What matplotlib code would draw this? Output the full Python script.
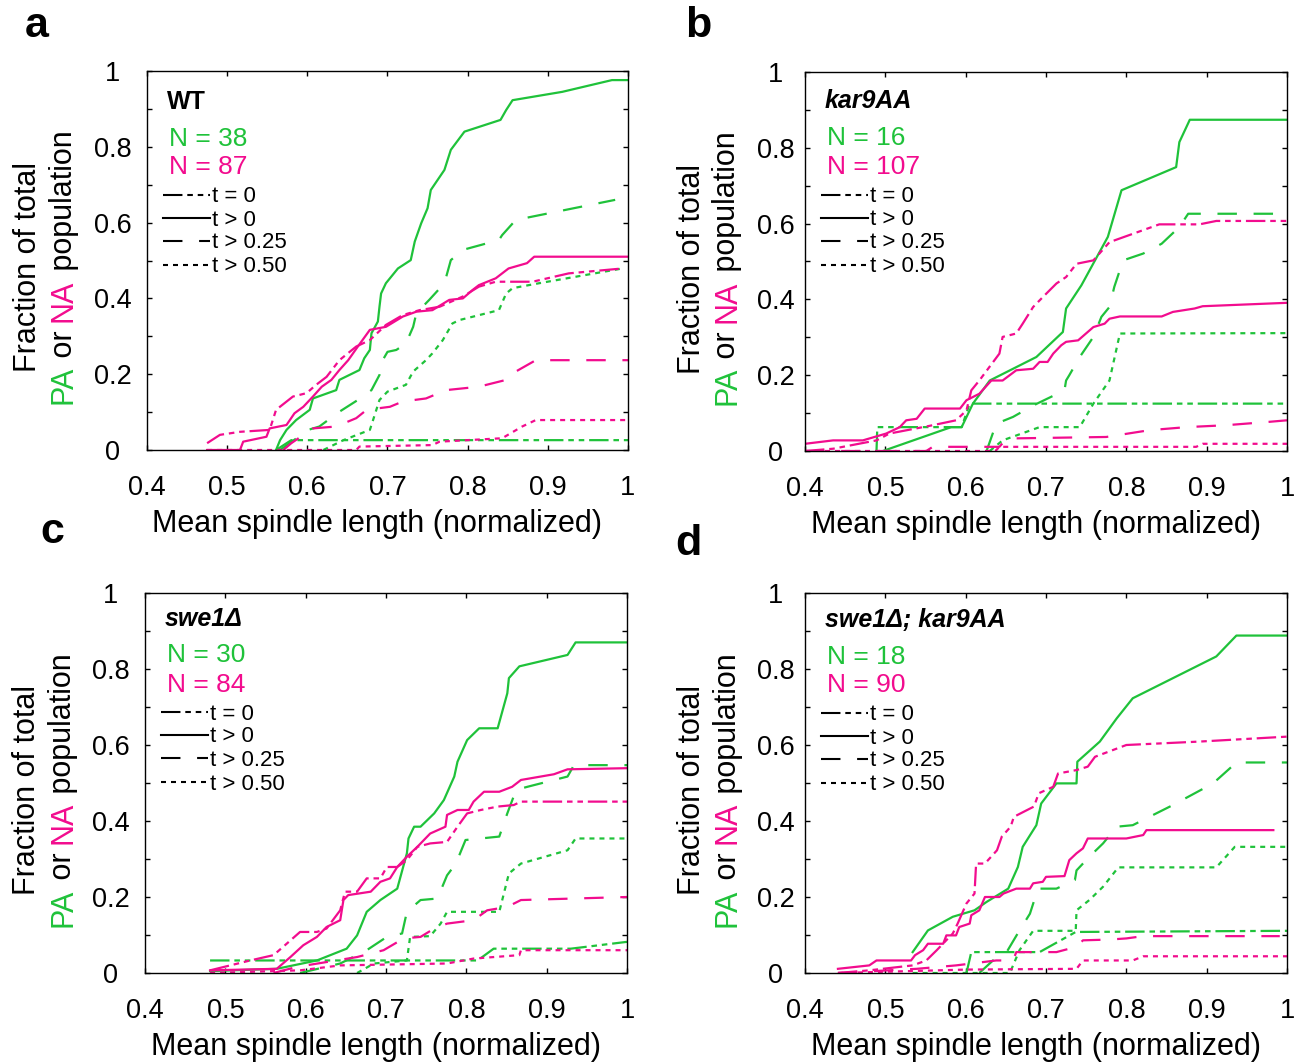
import numpy as np
import matplotlib
matplotlib.use("Agg")
import matplotlib.pyplot as plt
from matplotlib.lines import Line2D

plt.rcParams['font.family'] = ['Liberation Sans', 'DejaVu Sans']
plt.rcParams['lines.scale_dashes'] = False

#%% data: (mean spindle length, cumulative fraction)
# PA = green, NA = magenta ; t0 = "t = 0", t00 = "t > 0", t25 = "t > 0.25", t50 = "t > 0.50"
A_PA_T0 = [(0.561, 0), (0.580, 0.026), (1.0, 0.026)]
A_PA_T00 = [(0.561, 0), (0.566, 0.026), (0.574, 0.053), (0.586, 0.079), (0.603, 0.106), (0.607, 0.136),
            (0.636, 0.158), (0.640, 0.185), (0.665, 0.211), (0.671, 0.242), (0.678, 0.264), (0.680, 0.308),
            (0.688, 0.339), (0.690, 0.378), (0.692, 0.413), (0.698, 0.440), (0.713, 0.479), (0.729, 0.501),
            (0.734, 0.550), (0.742, 0.598), (0.750, 0.638), (0.754, 0.686), (0.771, 0.739), (0.779, 0.792),
            (0.796, 0.840), (0.841, 0.871), (0.848, 0.897), (0.856, 0.923), (0.918, 0.945), (0.980, 0.976),
            (1.0, 0.976)]
A_PA_T25 = [(0.566, 0), (0.601, 0.053), (0.615, 0.062), (0.640, 0.101), (0.663, 0.132), (0.680, 0.158),
            (0.690, 0.198), (0.694, 0.237), (0.700, 0.259), (0.711, 0.264), (0.723, 0.281), (0.732, 0.325),
            (0.736, 0.361), (0.752, 0.396), (0.771, 0.440), (0.779, 0.501), (0.794, 0.528), (0.839, 0.554),
            (0.843, 0.567), (0.860, 0.607), (0.984, 0.660)]
A_PA_T50 = [(0.620, 0), (0.645, 0.026), (0.678, 0.053), (0.682, 0.079), (0.690, 0.132), (0.700, 0.154),
            (0.723, 0.172), (0.732, 0.207), (0.748, 0.237), (0.756, 0.255), (0.769, 0.290), (0.781, 0.334),
            (0.790, 0.343), (0.839, 0.369), (0.848, 0.413), (0.856, 0.427), (0.889, 0.440), (0.993, 0.479)]
A_NA_T0 = [(0.475, 0.018), (0.491, 0.040), (0.516, 0.048), (0.553, 0.053), (0.561, 0.106), (0.582, 0.141),
           (0.599, 0.150), (0.611, 0.172), (0.624, 0.193), (0.640, 0.237), (0.661, 0.273), (0.678, 0.290),
           (0.698, 0.330), (0.719, 0.356), (0.740, 0.369), (0.765, 0.378), (0.794, 0.405), (0.814, 0.431),
           (0.835, 0.444), (0.881, 0.444), (0.926, 0.466), (0.993, 0.479)]
A_NA_T00 = [(0.475, 0), (0.516, 0), (0.520, 0.022), (0.549, 0.035), (0.553, 0.057), (0.574, 0.066),
            (0.584, 0.097), (0.595, 0.114), (0.607, 0.141), (0.618, 0.167), (0.630, 0.185), (0.640, 0.211),
            (0.651, 0.237), (0.663, 0.273), (0.678, 0.317), (0.698, 0.325), (0.719, 0.352), (0.736, 0.365),
            (0.756, 0.369), (0.777, 0.396), (0.794, 0.400), (0.806, 0.422), (0.814, 0.435), (0.835, 0.453),
            (0.851, 0.479), (0.874, 0.493), (0.883, 0.510), (1.0, 0.510)]
A_NA_T25 = [(0.570, 0), (0.580, 0.018), (0.607, 0.057), (0.636, 0.062), (0.661, 0.084), (0.674, 0.106),
            (0.703, 0.114), (0.719, 0.128), (0.748, 0.136), (0.773, 0.158), (0.814, 0.167), (0.848, 0.185),
            (0.860, 0.207), (0.885, 0.237), (1.0, 0.237)]
A_NA_T50 = [(0.475, 0), (0.661, 0), (0.665, 0.009), (0.756, 0.013), (0.765, 0.022), (0.843, 0.031),
            (0.868, 0.062), (0.885, 0.079), (1.0, 0.079)]

B_PA_T0 = [(0.489, 0), (0.490, 0.063), (0.595, 0.063), (0.605, 0.125), (1.0, 0.125)]
B_PA_T00 = [(0.497, 0), (0.582, 0.063), (0.595, 0.063), (0.609, 0.125), (0.630, 0.186), (0.688, 0.248),
            (0.721, 0.314), (0.725, 0.376), (0.744, 0.437), (0.777, 0.565), (0.794, 0.688), (0.862, 0.749),
            (0.866, 0.815), (0.879, 0.874), (1.0, 0.874)]
B_PA_T25 = [(0.626, 0), (0.638, 0.072), (0.659, 0.090), (0.684, 0.120), (0.723, 0.160), (0.725, 0.186),
            (0.729, 0.200), (0.742, 0.248), (0.759, 0.301), (0.769, 0.354), (0.779, 0.380), (0.785, 0.433),
            (0.796, 0.503), (0.821, 0.521), (0.844, 0.547), (0.866, 0.591), (0.877, 0.626), (1.0, 0.626)]
B_PA_T50 = [(0.630, 0), (0.646, 0.028), (0.692, 0.063), (0.742, 0.063), (0.759, 0.125), (0.779, 0.186),
            (0.792, 0.310), (1.0, 0.311)]
B_NA_T0 = [(0.400, 0), (0.435, 0.006), (0.489, 0.028), (0.505, 0.046), (0.559, 0.068), (0.588, 0.081),
           (0.601, 0.107), (0.607, 0.160), (0.617, 0.186), (0.642, 0.257), (0.646, 0.301), (0.663, 0.310),
           (0.671, 0.336), (0.684, 0.380), (0.696, 0.406), (0.713, 0.442), (0.725, 0.459), (0.738, 0.494),
           (0.759, 0.503), (0.779, 0.551), (0.841, 0.598), (0.891, 0.598), (0.912, 0.607), (1.0, 0.607)]
B_NA_T00 = [(0.400, 0.019), (0.435, 0.028), (0.472, 0.028), (0.501, 0.046), (0.518, 0.063), (0.526, 0.081),
            (0.539, 0.085), (0.549, 0.112), (0.593, 0.112), (0.601, 0.134), (0.617, 0.151), (0.632, 0.186),
            (0.646, 0.186), (0.663, 0.213), (0.684, 0.217), (0.692, 0.235), (0.702, 0.235), (0.709, 0.257),
            (0.719, 0.279), (0.725, 0.288), (0.740, 0.292), (0.759, 0.327), (0.773, 0.336), (0.779, 0.349),
            (0.792, 0.355), (0.844, 0.355), (0.858, 0.367), (0.885, 0.376), (0.895, 0.382), (1.0, 0.391)]
B_NA_T25 = [(0.400, 0), (0.551, 0), (0.559, 0.011), (0.642, 0.011), (0.651, 0.033), (0.775, 0.037),
            (0.829, 0.055), (0.875, 0.063), (0.924, 0.068), (0.978, 0.077), (1.0, 0.081)]
B_NA_T50 = [(0.400, 0), (0.637, 0), (0.642, 0.011), (0.887, 0.011), (0.895, 0.019), (1.0, 0.019)]

C_PA_T0 = [(0.481, 0.033), (0.814, 0.033), (0.834, 0.064), (0.930, 0.064), (1.0, 0.082)]
C_PA_T00 = [(0.481, 0.005), (0.564, 0.011), (0.614, 0.033), (0.651, 0.064), (0.664, 0.099), (0.676, 0.161),
            (0.693, 0.192), (0.714, 0.222), (0.726, 0.315), (0.728, 0.354), (0.735, 0.385), (0.743, 0.385),
            (0.760, 0.420), (0.772, 0.455), (0.785, 0.517), (0.789, 0.556), (0.801, 0.613), (0.816, 0.644),
            (0.839, 0.644), (0.851, 0.736), (0.853, 0.776), (0.866, 0.807), (0.926, 0.837), (0.936, 0.870),
            (1.0, 0.870)]
C_PA_T25 = [(0.593, 0), (0.643, 0.025), (0.676, 0.060), (0.701, 0.095), (0.720, 0.104), (0.726, 0.161),
            (0.743, 0.192), (0.764, 0.196), (0.776, 0.257), (0.787, 0.288), (0.799, 0.350), (0.841, 0.359),
            (0.851, 0.420), (0.862, 0.482), (0.876, 0.490), (0.926, 0.517), (0.934, 0.547), (1.0, 0.547)]
C_PA_T50 = [(0.664, 0), (0.685, 0.025), (0.726, 0.033), (0.730, 0.095), (0.755, 0.097), (0.768, 0.130),
            (0.776, 0.161), (0.841, 0.161), (0.853, 0.262), (0.868, 0.288), (0.926, 0.323), (0.936, 0.354),
            (1.0, 0.354)]
C_NA_T0 = [(0.481, 0.007), (0.531, 0.033), (0.560, 0.047), (0.572, 0.069), (0.593, 0.108), (0.614, 0.108),
           (0.626, 0.117), (0.643, 0.165), (0.649, 0.214), (0.664, 0.214), (0.676, 0.249), (0.693, 0.249),
           (0.701, 0.279), (0.714, 0.279), (0.726, 0.297), (0.739, 0.332), (0.755, 0.341), (0.776, 0.345),
           (0.789, 0.385), (0.801, 0.420), (0.818, 0.429), (0.839, 0.438), (0.859, 0.442), (0.868, 0.451),
           (1.0, 0.451)]
C_NA_T00 = [(0.481, 0.007), (0.564, 0.011), (0.581, 0.042), (0.597, 0.073), (0.614, 0.095), (0.626, 0.121),
            (0.643, 0.139), (0.647, 0.192), (0.653, 0.205), (0.681, 0.214), (0.693, 0.240), (0.705, 0.249),
            (0.714, 0.279), (0.726, 0.306), (0.739, 0.332), (0.755, 0.367), (0.774, 0.385), (0.776, 0.416),
            (0.789, 0.429), (0.803, 0.429), (0.809, 0.451), (0.822, 0.477), (0.841, 0.477), (0.857, 0.490),
            (0.868, 0.508), (0.909, 0.523), (0.926, 0.536), (1.0, 0.539)]
C_NA_T25 = [(0.560, 0), (0.589, 0.016), (0.664, 0.042), (0.697, 0.060), (0.722, 0.091), (0.743, 0.095),
            (0.760, 0.117), (0.776, 0.130), (0.809, 0.139), (0.826, 0.165), (0.851, 0.174), (0.868, 0.192),
            (1.0, 0.200)]
C_NA_T50 = [(0.481, 0), (0.593, 0.007), (0.643, 0.020), (0.776, 0.025), (0.809, 0.038), (0.866, 0.047),
            (0.868, 0.060), (1.0, 0.060)]

D_PA_T0 = [(0.601, 0), (0.607, 0.055), (0.692, 0.055), (0.737, 0.108), (1.0, 0.111)]
D_PA_T00 = [(0.534, 0.055), (0.553, 0.112), (0.584, 0.148), (0.611, 0.165), (0.626, 0.187), (0.653, 0.222),
            (0.665, 0.279), (0.671, 0.332), (0.688, 0.389), (0.694, 0.446), (0.713, 0.499), (0.738, 0.499),
            (0.739, 0.556), (0.767, 0.609), (0.788, 0.670), (0.808, 0.723), (0.912, 0.833), (0.937, 0.888),
            (1.0, 0.888)]
D_PA_T25 = [(0.617, 0), (0.634, 0.033), (0.651, 0.055), (0.667, 0.112), (0.680, 0.156), (0.690, 0.222),
            (0.713, 0.222), (0.736, 0.245), (0.738, 0.270), (0.754, 0.306), (0.771, 0.341), (0.788, 0.385),
            (0.808, 0.389), (0.858, 0.442), (0.908, 0.499), (0.937, 0.554), (1.0, 0.554)]
D_PA_T50 = [(0.534, 0), (0.655, 0), (0.667, 0.060), (0.684, 0.111), (0.737, 0.111), (0.738, 0.165),
            (0.754, 0.192), (0.771, 0.227), (0.790, 0.278), (0.912, 0.278), (0.935, 0.332), (1.0, 0.332)]
D_NA_T0 = [(0.441, 0), (0.480, 0.007), (0.534, 0.020), (0.551, 0.033), (0.564, 0.060), (0.584, 0.104),
           (0.590, 0.130), (0.601, 0.183), (0.611, 0.209), (0.613, 0.288), (0.624, 0.288), (0.639, 0.323),
           (0.645, 0.359), (0.656, 0.385), (0.660, 0.411), (0.672, 0.424), (0.685, 0.438), (0.691, 0.473),
           (0.709, 0.490), (0.715, 0.525), (0.738, 0.534), (0.752, 0.543), (0.761, 0.569), (0.800, 0.600),
           (0.891, 0.609), (1.0, 0.622)]
D_NA_T00 = [(0.441, 0.011), (0.480, 0.020), (0.489, 0.033), (0.532, 0.033), (0.537, 0.047), (0.547, 0.060),
            (0.553, 0.077), (0.572, 0.077), (0.576, 0.099), (0.588, 0.099), (0.592, 0.121), (0.605, 0.130),
            (0.607, 0.152), (0.617, 0.165), (0.624, 0.200), (0.642, 0.200), (0.647, 0.209), (0.663, 0.222),
            (0.680, 0.222), (0.684, 0.236), (0.696, 0.240), (0.700, 0.253), (0.723, 0.255), (0.729, 0.297),
            (0.738, 0.315), (0.746, 0.328), (0.752, 0.354), (0.800, 0.354), (0.821, 0.363), (0.825, 0.376),
            (0.983, 0.376)]
D_NA_T25 = [(0.441, 0), (0.539, 0.011), (0.588, 0.020), (0.638, 0.033), (0.659, 0.033), (0.663, 0.055),
            (0.713, 0.055), (0.738, 0.069), (0.746, 0.086), (0.779, 0.088), (0.800, 0.091), (0.821, 0.097),
            (0.991, 0.097)]
D_NA_T50 = [(0.441, 0), (0.601, 0.009), (0.738, 0.011), (0.746, 0.033), (0.808, 0.033), (0.821, 0.044),
            (1.0, 0.044)]

LETTERS = ['a', 'b', 'c', 'd']
STRAINS = ['WT', 'kar9AA', 'swe1Δ', 'swe1Δ; kar9AA']
N_PA = [38, 16, 30, 18]
N_NA = [87, 107, 84, 90]
CURVES = [
    [A_PA_T0, A_PA_T00, A_PA_T25, A_PA_T50, A_NA_T0, A_NA_T00, A_NA_T25, A_NA_T50],
    [B_PA_T0, B_PA_T00, B_PA_T25, B_PA_T50, B_NA_T0, B_NA_T00, B_NA_T25, B_NA_T50],
    [C_PA_T0, C_PA_T00, C_PA_T25, C_PA_T50, C_NA_T0, C_NA_T00, C_NA_T25, C_NA_T50],
    [D_PA_T0, D_PA_T00, D_PA_T25, D_PA_T50, D_NA_T0, D_NA_T00, D_NA_T25, D_NA_T50],
]
LEG_LABELS = ['t = 0', 't > 0', 't > 0.25', 't > 0.50']
X_TICKS = [0.4, 0.5, 0.6, 0.7, 0.8, 0.9, 1.0]
X_TICKLABELS = ['0.4', '0.5', '0.6', '0.7', '0.8', '0.9', '1']
Y_TICKS = [0, 0.1, 0.2, 0.3, 0.4, 0.5, 0.6, 0.7, 0.8, 0.9, 1.0]
Y_TICKLABELS = ['0', '', '0.2', '', '0.4', '', '0.6', '', '0.8', '', '1']

#%% styles / layout
GREEN = '#1fc23a'
MAGENTA = '#f20c8e'
STYLES = [(0, (14, 3.5, 4, 3.5, 4, 3.5)), '-', (0, (14, 12)), (0, (3.6, 3.6))]
W, H = 1303, 1063
# axes boxes in pixels: left, top, right, bottom
BOXES = [(147, 71, 628, 450), (805, 72, 1287, 451), (145, 593, 627, 973), (805, 593, 1287, 973)]
LETTER_POS = [(25, 37), (685, 37), (40, 543), (675, 555)]
SHIFT = [3, 1.5, -2, -1]          # vertical nudge of in-axes annotations
YLAB_X = [(-111, -75), (-105, -70), (-110, -74), (-105, -69)]
YPAD = [24.5, 21, 24.5, 21]

fig = plt.figure(figsize=(W / 100, H / 100), dpi=100)
r = fig.canvas.get_renderer()


def fxy(x, y):
    return x / W, 1 - y / H


def text_w(s, size):
    t1 = fig.text(0, 0, 'x' + s + 'x', fontsize=size)
    t2 = fig.text(0, 0, 'xx', fontsize=size)
    w = t1.get_window_extent(r).width - t2.get_window_extent(r).width
    t1.remove()
    t2.remove()
    return w


def vtext(parts, xb, yc, size):
    widths = [text_w(s, size) for s, c in parts]
    y = yc + sum(widths) / 2
    for (s, c), w in zip(parts, widths):
        fx, fy = fxy(xb, y)
        fig.text(fx, fy, s, color=c, fontsize=size, rotation=90,
                 rotation_mode='anchor', ha='left', va='baseline')
        y -= w


for i in range(4):
    l, t, rr, b = BOXES[i]
    ax = fig.add_axes([l / W, 1 - b / H, (rr - l) / W, (b - t) / H])
    for k, pts in enumerate(CURVES[i]):
        xs, ys = zip(*pts)
        ax.plot(xs, ys, color=GREEN if k < 4 else MAGENTA, ls=STYLES[k % 4], lw=1.6)
    ax.set_xlim(0.4, 1)
    ax.set_ylim(0, 1)
    ax.set_xticks(X_TICKS, X_TICKLABELS)
    ax.set_yticks(Y_TICKS, Y_TICKLABELS)
    ax.tick_params(direction='in', length=3.6, width=1, top=True, right=True, labelsize=19.5)
    ax.tick_params(axis='x', pad=18)
    ax.tick_params(axis='y', pad=YPAD[i])
    for lb in ax.get_yticklabels():
        lb.set_horizontalalignment('center')
    for sp in ax.spines.values():
        sp.set_linewidth(1.0)

    # panel letter
    fx, fy = fxy(*LETTER_POS[i])
    fig.text(fx, fy, LETTERS[i], fontsize=31, fontweight='bold', ha='left', va='baseline')

    # x label
    fx, fy = fxy((l + rr) / 2 - 10, b + 82)
    fig.text(fx, fy, 'Mean spindle length (normalized)', fontsize=22, ha='center', va='baseline')

    # y label (two lines, coloured words)
    yc = (t + b) / 2 + 7
    vtext([('Fraction of total', 'black')], l + YLAB_X[i][0], yc, 22)
    vtext([('PA', GREEN), (' or ', 'black'), ('NA', MAGENTA), (' population', 'black')],
          l + YLAB_X[i][1], yc, 22)

    # in-axes annotations
    s = SHIFT[i]
    fx, fy = fxy(l + 20, t + 26 + s + 9)
    fig.text(fx, fy, STRAINS[i], fontsize=18, fontweight='bold',
             fontstyle='normal' if i == 0 else 'italic', ha='left', va='baseline')
    fx, fy = fxy(l + 22, t + 62 + s + 9.5)
    fig.text(fx, fy, 'N = %d' % N_PA[i], fontsize=19, color=GREEN, ha='left', va='baseline')
    fx, fy = fxy(l + 22, t + 91 + s + 9.5)
    fig.text(fx, fy, 'N = %d' % N_NA[i], fontsize=19, color=MAGENTA, ha='left', va='baseline')
    for j, lab in enumerate(LEG_LABELS):
        yy = t + [121, 144, 167, 191][j] + s
        x0, y0 = fxy(l + 16, yy)
        x1, y1 = fxy(l + 63, yy)
        fig.add_artist(Line2D([x0, x1], [y0, y1], transform=fig.transFigure,
                              color='black', lw=1.5, ls=STYLES[j]))
        fx, fy = fxy(l + 65, yy + 7.5)
        fig.text(fx, fy, lab, fontsize=16, ha='left', va='baseline')

fig.savefig('out.png', dpi=100)
